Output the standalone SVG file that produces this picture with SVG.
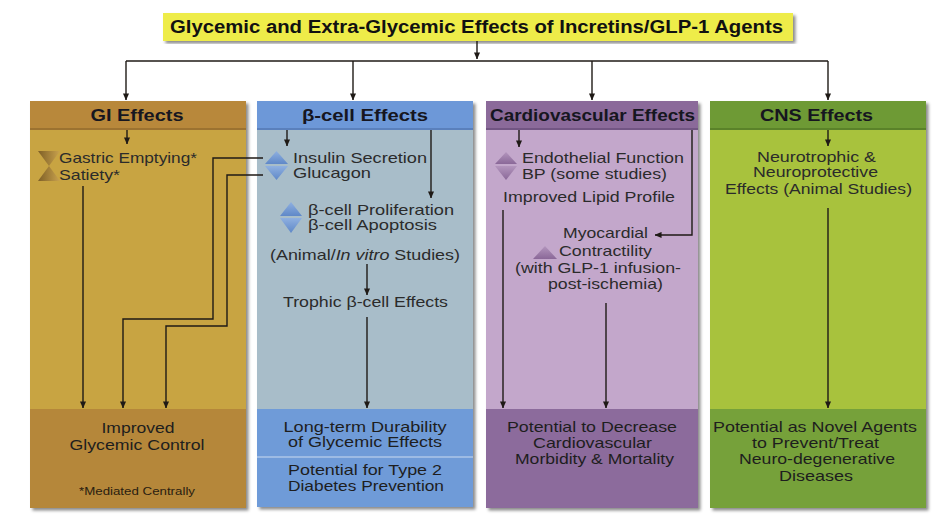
<svg xmlns="http://www.w3.org/2000/svg" width="935" height="519" viewBox="0 0 935 519">
  <defs>
    <style>
      text { font-family: "Liberation Sans", Arial, sans-serif; fill: #262626; }
      .title { font-size: 17.5px; font-weight: bold; fill: #111; }
      .hdr { font-size: 16px; font-weight: bold; fill: #161620; }
      .body { font-size: 14.5px; fill: #2b2b2b; }
      .out { font-size: 14.5px; fill: #1e1e1e; }
      .note { font-size: 10.5px; fill: #2a2010; }
      .mid { text-anchor: middle; }
      .conn { fill: none; stroke: #1f1a16; stroke-width: 1.4; }
      .shadow { filter: url(#sh); }
    </style>
    <filter id="sh" x="-5%" y="-5%" width="115%" height="115%">
      <feDropShadow dx="2.5" dy="2.5" stdDeviation="1.6" flood-color="#000" flood-opacity="0.45"/>
    </filter>
    <marker id="ah" viewBox="0 0 8 8" refX="7.5" refY="4" markerWidth="7" markerHeight="7" markerUnits="userSpaceOnUse" orient="auto">
      <path d="M0,0.5 L8,4 L0,7.5 z" fill="#1f1a16"/>
    </marker>
    <linearGradient id="gBlue" x1="0" y1="0" x2="0" y2="1">
      <stop offset="0" stop-color="#8fb0e0"/>
      <stop offset="1" stop-color="#5f88c8"/>
    </linearGradient>
    <linearGradient id="gPurp" x1="0" y1="0" x2="0" y2="1">
      <stop offset="0" stop-color="#b395bd"/>
      <stop offset="1" stop-color="#8a6898"/>
    </linearGradient>
    <linearGradient id="gBrown" x1="0" y1="0" x2="1" y2="0">
      <stop offset="0" stop-color="#7e5f26"/>
      <stop offset="1" stop-color="#c9a24e"/>
    </linearGradient>
  </defs>

  <rect x="0" y="0" width="935" height="519" fill="#ffffff"/>

  <!-- Title -->
  <g id="title">
    <rect class="shadow" x="163" y="13" width="630" height="28" fill="#eeec4a"/>
    <text class="title mid" x="476.5" y="33" textLength="613" lengthAdjust="spacingAndGlyphs">Glycemic and Extra-Glycemic Effects of Incretins/GLP-1 Agents</text>
  </g>

  <!-- GI column -->
  <g id="gi-effects">
    <rect class="shadow" x="30" y="101" width="216" height="407" fill="#c8a443"/>
    <rect x="30" y="101" width="216" height="29" fill="#b8883b"/>
    <rect x="30" y="128" width="216" height="2" fill="#9c7230"/>
    <text class="hdr mid" x="137" y="121" textLength="93" lengthAdjust="spacingAndGlyphs">GI Effects</text>
  </g>
  <g id="gi-items">
    <polygon points="38,151 60,151 49,166" fill="url(#gBrown)"/>
    <polygon points="49,166 38,181 60,181" fill="url(#gBrown)"/>
    <text class="body" x="59" y="163" textLength="138" lengthAdjust="spacingAndGlyphs">Gastric Emptying*</text>
    <text class="body" x="59" y="180" textLength="61" lengthAdjust="spacingAndGlyphs">Satiety*</text>
  </g>
  <g id="gi-outcome">
    <rect x="30" y="409" width="216" height="99" fill="#b5873a"/>
    <text class="out mid" x="138" y="433" textLength="73" lengthAdjust="spacingAndGlyphs">Improved</text>
    <text class="out mid" x="137" y="450" textLength="135" lengthAdjust="spacingAndGlyphs">Glycemic Control</text>
    <text class="note mid" x="137" y="495" textLength="116" lengthAdjust="spacingAndGlyphs">*Mediated Centrally</text>
  </g>

  <!-- Beta-cell column -->
  <g id="beta-effects">
    <rect class="shadow" x="257" y="101" width="216" height="406" fill="#a8bdc9"/>
    <rect x="257" y="101" width="216" height="29" fill="#6d98d8"/>
    <rect x="257" y="128" width="216" height="2" fill="#5a80bc"/>
    <text class="hdr mid" x="365" y="121" textLength="126" lengthAdjust="spacingAndGlyphs">β-cell Effects</text>
  </g>
  <g id="beta-items">
    <polygon points="265,164 288,164 276.5,151" fill="url(#gBlue)"/>
    <polygon points="265,166 288,166 276.5,180" fill="url(#gBlue)"/>
    <text class="body" x="293" y="163" textLength="134" lengthAdjust="spacingAndGlyphs">Insulin Secretion</text>
    <text class="body" x="293" y="178" textLength="78" lengthAdjust="spacingAndGlyphs">Glucagon</text>
    <polygon points="280,216 302,216 291,202" fill="url(#gBlue)"/>
    <polygon points="280,218 302,218 291,233" fill="url(#gBlue)"/>
    <text class="body" x="308" y="215" textLength="146" lengthAdjust="spacingAndGlyphs">β-cell Proliferation</text>
    <text class="body" x="308" y="230" textLength="129" lengthAdjust="spacingAndGlyphs">β-cell Apoptosis</text>
    <text class="body mid" x="365" y="260" textLength="190" lengthAdjust="spacingAndGlyphs">(Animal/<tspan font-style="italic">In vitro</tspan> Studies)</text>
  </g>
  <g id="beta-trophic">
    <text class="body mid" x="365.5" y="307" textLength="165" lengthAdjust="spacingAndGlyphs">Trophic β-cell Effects</text>
  </g>
  <g id="beta-outcome">
    <rect x="257" y="409" width="216" height="98" fill="#6f9bd8"/>
    <rect x="257" y="456" width="216" height="2" fill="#9dbbe4"/>
    <text class="out mid" x="365" y="432" textLength="163" lengthAdjust="spacingAndGlyphs">Long-term Durability</text>
    <text class="out mid" x="365" y="447" textLength="154" lengthAdjust="spacingAndGlyphs">of Glycemic Effects</text>
    <text class="out mid" x="365" y="475" textLength="154" lengthAdjust="spacingAndGlyphs">Potential for Type 2</text>
    <text class="out mid" x="366" y="491" textLength="156" lengthAdjust="spacingAndGlyphs">Diabetes Prevention</text>
  </g>

  <!-- Cardiovascular column -->
  <g id="cv-effects">
    <rect class="shadow" x="486" y="101" width="212" height="407" fill="#c3a7cb"/>
    <rect x="486" y="101" width="212" height="29" fill="#8b6a9a"/>
    <rect x="486" y="128" width="212" height="2" fill="#725583"/>
    <text class="hdr mid" x="592.5" y="121" textLength="205" lengthAdjust="spacingAndGlyphs">Cardiovascular Effects</text>
  </g>
  <g id="cv-items">
    <polygon points="495,164 517,164 506,152" fill="url(#gPurp)"/>
    <polygon points="495,166 517,166 506,180" fill="url(#gPurp)"/>
    <text class="body" x="522" y="163" textLength="162" lengthAdjust="spacingAndGlyphs">Endothelial Function</text>
    <text class="body" x="522" y="179" textLength="145" lengthAdjust="spacingAndGlyphs">BP (some studies)</text>
    <text class="body" x="503" y="202" textLength="172" lengthAdjust="spacingAndGlyphs">Improved Lipid Profile</text>
  </g>
  <g id="cv-myocardial">
    <text class="body mid" x="605.5" y="238" textLength="85" lengthAdjust="spacingAndGlyphs">Myocardial</text>
    <polygon points="533,259 557,259 545,246" fill="url(#gPurp)"/>
    <text class="body" x="559" y="256" textLength="93" lengthAdjust="spacingAndGlyphs">Contractility</text>
    <text class="body mid" x="598" y="273" textLength="166" lengthAdjust="spacingAndGlyphs">(with GLP-1 infusion-</text>
    <text class="body mid" x="605.5" y="289" textLength="115" lengthAdjust="spacingAndGlyphs">post-ischemia)</text>
  </g>
  <g id="cv-outcome">
    <rect x="486" y="409" width="212" height="99" fill="#8c6b9c"/>
    <text class="out mid" x="592" y="432" textLength="170" lengthAdjust="spacingAndGlyphs">Potential to Decrease</text>
    <text class="out mid" x="592.5" y="448" textLength="119" lengthAdjust="spacingAndGlyphs">Cardiovascular</text>
    <text class="out mid" x="594.5" y="464" textLength="159" lengthAdjust="spacingAndGlyphs">Morbidity &amp; Mortality</text>
  </g>

  <!-- CNS column -->
  <g id="cns-effects">
    <rect class="shadow" x="710" y="101" width="216" height="407" fill="#a8c23d"/>
    <rect x="710" y="101" width="216" height="29" fill="#6e9a35"/>
    <rect x="710" y="128" width="216" height="2" fill="#5a8229"/>
    <text class="hdr mid" x="816.5" y="121" textLength="113" lengthAdjust="spacingAndGlyphs">CNS Effects</text>
  </g>
  <g id="cns-items">
    <text class="body mid" x="816.5" y="162" textLength="119" lengthAdjust="spacingAndGlyphs">Neurotrophic &amp;</text>
    <text class="body mid" x="815.5" y="177" textLength="125" lengthAdjust="spacingAndGlyphs">Neuroprotective</text>
    <text class="body mid" x="818.5" y="194" textLength="187" lengthAdjust="spacingAndGlyphs">Effects (Animal Studies)</text>
  </g>
  <g id="cns-outcome">
    <rect x="710" y="409" width="216" height="99" fill="#76a13a"/>
    <text class="out mid" x="815" y="432" textLength="204" lengthAdjust="spacingAndGlyphs">Potential as Novel Agents</text>
    <text class="out mid" x="815.5" y="448" textLength="127" lengthAdjust="spacingAndGlyphs">to Prevent/Treat</text>
    <text class="out mid" x="817" y="464" textLength="156" lengthAdjust="spacingAndGlyphs">Neuro-degenerative</text>
    <text class="out mid" x="816" y="481" textLength="74" lengthAdjust="spacingAndGlyphs">Diseases</text>
  </g>

  <!-- Connectors -->
  <g id="connectors">
    <path class="conn" d="M477 41 V59" marker-end="url(#ah)"/>
    <path class="conn" d="M126 61 H828"/>
    <path class="conn" d="M126 61 V100" marker-end="url(#ah)"/>
    <path class="conn" d="M353 61 V100" marker-end="url(#ah)"/>
    <path class="conn" d="M592 61 V100" marker-end="url(#ah)"/>
    <path class="conn" d="M828 61 V100" marker-end="url(#ah)"/>

    <path class="conn" d="M127 130 V144" marker-end="url(#ah)"/>
    <path class="conn" d="M83 186 V408" marker-end="url(#ah)"/>
    <path class="conn" d="M263 158 H213 V319 H123 V408" marker-end="url(#ah)"/>
    <path class="conn" d="M263 175 H227 V326 H166 V408" marker-end="url(#ah)"/>

    <path class="conn" d="M287 130 V146" marker-end="url(#ah)"/>
    <path class="conn" d="M431 130 V198" marker-end="url(#ah)"/>
    <path class="conn" d="M367 264 V295" marker-end="url(#ah)"/>
    <path class="conn" d="M367 317 V408" marker-end="url(#ah)"/>

    <path class="conn" d="M519 130 V147" marker-end="url(#ah)"/>
    <path class="conn" d="M692 130 V235 H655" marker-end="url(#ah)"/>
    <path class="conn" d="M503 210 V408" marker-end="url(#ah)"/>
    <path class="conn" d="M606 303 V408" marker-end="url(#ah)"/>

    <path class="conn" d="M828 130 V146" marker-end="url(#ah)"/>
    <path class="conn" d="M828 208 V408" marker-end="url(#ah)"/>
  </g>
</svg>
